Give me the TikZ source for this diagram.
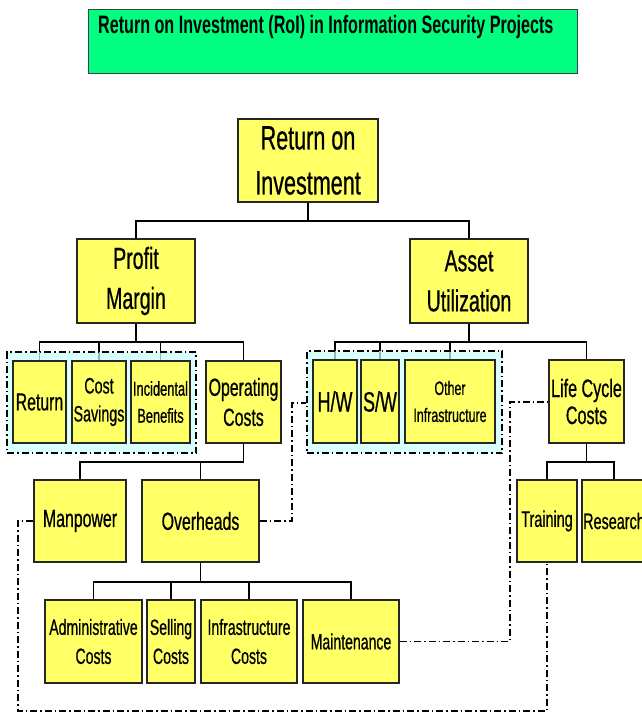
\documentclass[tikz,border=0pt]{standalone}
\usepackage{fontspec}
\usetikzlibrary{backgrounds}
\setmainfont{Liberation Sans}
\newfontfamily\nar[FakeStretch=0.64,FakeBold=0.6]{Liberation Sans}
\newfontfamily\narb[FakeStretch=0.64]{Liberation Sans Bold}
\newcommand\fsz[2]{\fontsize{#1}{#2}\selectfont}
\definecolor{yfill}{RGB}{255,255,102}
\definecolor{gfill}{RGB}{0,255,128}
\definecolor{cfill}{RGB}{204,255,255}
\tikzset{
  ybox/.style={draw=black!85, line width=1.4pt, fill=yfill, inner sep=0pt, align=center, anchor=center},
  cbox/.style={draw=black, line width=1.3pt, dash pattern=on 7pt off 3pt on 1.5pt off 3pt, fill=cfill, fill opacity=0.72, draw opacity=1, inner sep=0pt},
  conn/.style={draw=black, line width=1.3pt},
  dd/.style={draw=black, line width=1.2pt, dash pattern=on 7pt off 3pt on 1.5pt off 3pt}
}
\begin{document}
\begin{tikzpicture}[x=1pt,y=-1pt]
\useasboundingbox (0,0) rectangle (642,713);
\clip (0,0) rectangle (642,713);
% title
\node[draw=black!75, line width=1pt, fill=gfill, minimum width=489pt, minimum height=64pt, inner sep=0pt] (title) at (332.5,41) {};
\node[anchor=base west, inner sep=0pt, font=\narb\fsz{25.2}{30}] (titletext) at (98,33) {Return on Investment (RoI) in Information Security Projects};
% bus coordinates
\coordinate (b1) at (0,221);
\coordinate (b2) at (0,342);
\coordinate (b3) at (0,462);
\coordinate (b4) at (0,582);
\coordinate (d1) at (292,403);
\coordinate (d2) at (510,402);
\coordinate (d3) at (18,711);
% cyan group backgrounds
\node[cbox, minimum width=189pt, minimum height=101pt] (grp1) at (101.5,402.5) {};
\node[cbox, minimum width=195pt, minimum height=102pt] (grp2) at (404.5,402) {};
% level 0-1
\node[ybox, minimum width=140pt, minimum height=83pt, font=\nar\fsz{33.7}{45}] (root) at (308,160.5) {Return on\\Investment};
\node[ybox, minimum width=118pt, minimum height=84pt, font=\nar\fsz{30.5}{40}] (pm) at (136,281) {Profit\\Margin};
\node[ybox, minimum width=118pt, minimum height=84pt, font=\nar\fsz{30.5}{40}] (au) at (469,281) {Asset\\Utilization};
% level 2
\node[ybox, minimum width=53pt, minimum height=82pt, font=\nar\fsz{24.7}{28}] (ret) at (39.5,402) {Return};
\node[ybox, minimum width=54pt, minimum height=82pt, font=\nar\fsz{22.3}{28}] (cost) at (99,402) {Cost\\Savings};
\node[ybox, minimum width=59pt, minimum height=82pt, font=\nar\fsz{20.1}{27}] (inc) at (160.5,402) {Incidental\\Benefits};
\node[ybox, minimum width=75pt, minimum height=82pt, font=\nar\fsz{24.8}{30}] (opc) at (243.5,402) {Operating\\Costs};
\node[ybox, minimum width=44pt, minimum height=83pt, font=\nar\fsz{28}{30}] (hw) at (335,401.5) {H/W};
\node[ybox, minimum width=38pt, minimum height=83pt, font=\nar\fsz{28}{30}] (sw) at (380,401.5) {S/W};
\node[ybox, minimum width=90pt, minimum height=83pt, font=\nar\fsz{19.4}{27}] (oth) at (450,401.5) {Other\\Infrastructure};
\node[ybox, minimum width=75pt, minimum height=83pt, font=\nar\fsz{25.2}{27}] (lcc) at (586.5,401.5) {Life Cycle\\Costs};
% level 3
\node[ybox, minimum width=92pt, minimum height=82pt, font=\nar\fsz{24.8}{30}] (man) at (80,521) {\raisebox{-3pt}{Manpower}};
\node[ybox, minimum width=117pt, minimum height=82pt, font=\nar\fsz{24.8}{30}] (ovh) at (200.5,521) {Overheads};
\node[ybox, minimum width=60pt, minimum height=82pt, font=\nar\fsz{22.5}{30}] (trn) at (547,521) {\raisebox{-3pt}{Training}};
\node[ybox, minimum width=64pt, minimum height=82pt, font=\nar\fsz{22.5}{30}] (res) at (614,521) {Research};
% level 4
\node[ybox, minimum width=97pt, minimum height=83pt, font=\nar\fsz{22}{29}] (adm) at (93.5,641.5) {Administrative\\Costs};
\node[ybox, minimum width=48pt, minimum height=83pt, font=\nar\fsz{22}{29}] (sel) at (171,641.5) {Selling\\Costs};
\node[ybox, minimum width=96pt, minimum height=83pt, font=\nar\fsz{22}{29}] (inf) at (249,641.5) {Infrastructure\\Costs};
\node[ybox, minimum width=96pt, minimum height=83pt, font=\nar\fsz{22}{29}] (mnt) at (351,641.5) {Maintenance};
% connectors behind the boxes
\begin{pgfonlayer}{background}
  \draw[conn] (root.south) -- (root.south |- b1);
  \draw[conn] (pm.north) -- (pm.north |- b1) -- (au.north |- b1) -- (au.north);
  \draw[conn] (pm.south) -- (pm.south |- b2);
  \draw[conn] (ret.north) -- (ret.north |- b2) -- (opc.north |- b2) -- (opc.north);
  \draw[conn] (cost.north) -- (cost.north |- b2);
  \draw[conn] (inc.north) -- (inc.north |- b2);
  \draw[conn] (au.south) -- (au.south |- b2);
  \draw[conn] (hw.north) -- (hw.north |- b2) -- (lcc.north |- b2) -- (lcc.north);
  \draw[conn] (sw.north) -- (sw.north |- b2);
  \draw[conn] (oth.north) -- (oth.north |- b2);
  \draw[conn] (opc.south) -- (opc.south |- b3) -- (man.north |- b3) -- (man.north);
  \draw[conn] (ovh.north) -- (ovh.north |- b3);
  \draw[conn] (lcc.south) -- (lcc.south |- b3);
  \draw[conn] (trn.north) -- (trn.north |- b3) -- (res.north |- b3) -- (res.north);
  \draw[conn] (ovh.south) -- (ovh.south |- b4);
  \draw[conn] (adm.north) -- (adm.north |- b4) -- (mnt.north |- b4) -- (mnt.north);
  \draw[conn] (sel.north) -- (sel.north |- b4);
  \draw[conn] (inf.north) -- (inf.north |- b4);
  \draw[dd] (ovh.east) -| (d1) -- (d1 -| grp2.west);
  \draw[dd] (mnt.east) -| (d2) -- (d2 -| lcc.west);
  \draw[dd] (man.west) -| (d3) -| (trn.south);
\end{pgfonlayer}
\end{tikzpicture}
\end{document}
